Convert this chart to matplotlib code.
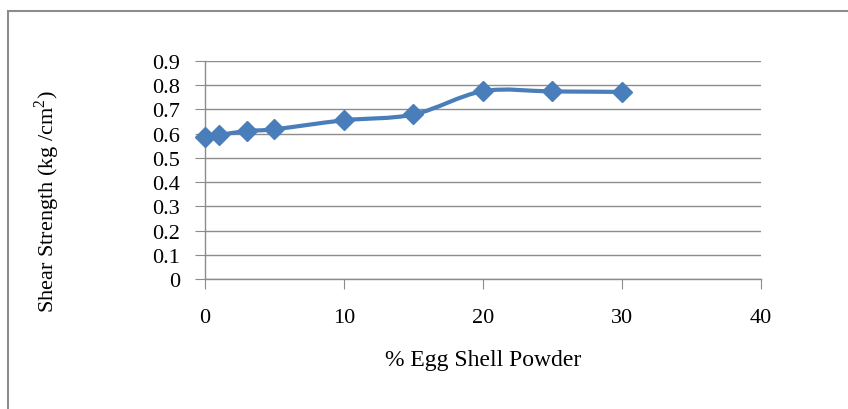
import matplotlib
matplotlib.use("Agg")
import matplotlib.pyplot as plt
from matplotlib.path import Path
from matplotlib.patches import PathPatch, Rectangle

# % egg shell powder vs shear strength
egg_shell = [0, 1, 3, 5, 10, 15, 20, 25, 30]
shear = [0.588, 0.594, 0.611, 0.618, 0.655, 0.679, 0.775, 0.774, 0.772]

x_ticks = [0, 10, 20, 30, 40]
y_ticks = [0, 0.1, 0.2, 0.3, 0.4, 0.5, 0.6, 0.7, 0.8, 0.9]
y_labels = ["0", "0.1", "0.2", "0.3", "0.4", "0.5", "0.6", "0.7", "0.8", "0.9"]

blue = "#4a7ebb"
grey = "#8c8c8c"

plt.rcParams["font.family"] = ["Liberation Serif", "DejaVu Serif"]
plt.rcParams["mathtext.fontset"] = "custom"
plt.rcParams["mathtext.rm"] = "Liberation Serif"

fig = plt.figure(figsize=(8.48, 4.10), dpi=100)
ax = fig.add_axes([0.2417, 0.317, 0.6557, 0.532])

# outer chart frame (Excel chart area), right and bottom edges run off the image
fig.patches.append(Rectangle((8 / 848, -0.1), 1.2, 1 - 12 / 410 + 0.1,
                             transform=fig.transFigure, fill=False,
                             edgecolor=grey, linewidth=1.5))

# smoothed line like Excel (Catmull-Rom style bezier through the points)
verts = [(egg_shell[0], shear[0])]
codes = [Path.MOVETO]
n = len(egg_shell)
for i in range(n - 1):
    x0, y0 = egg_shell[max(i - 1, 0)], shear[max(i - 1, 0)]
    x1, y1 = egg_shell[i], shear[i]
    x2, y2 = egg_shell[i + 1], shear[i + 1]
    x3, y3 = egg_shell[min(i + 2, n - 1)], shear[min(i + 2, n - 1)]
    verts += [(x1 + (x2 - x0) / 6, y1 + (y2 - y0) / 6),
              (x2 - (x3 - x1) / 6, y2 - (y3 - y1) / 6),
              (x2, y2)]
    codes += [Path.CURVE4] * 3
ax.add_patch(PathPatch(Path(verts, codes), facecolor="none",
                       edgecolor=blue, linewidth=3, zorder=3))
ax.plot(egg_shell, shear, ls="none", marker="D", markersize=10,
        color=blue, zorder=4, clip_on=False)

ax.set_xlim(0, 40)
ax.set_ylim(0, 0.9)
ax.set_xticks(x_ticks)
ax.set_yticks(y_ticks)
ax.set_yticklabels(y_labels)
ax.grid(axis="y", color=grey, linewidth=1)
ax.set_axisbelow(True)
for s in ["top", "right"]:
    ax.spines[s].set_visible(False)
for s in ["left", "bottom"]:
    ax.spines[s].set_color(grey)
    ax.spines[s].set_linewidth(1)
ax.tick_params(axis="both", direction="out", length=7, color=grey,
               labelsize=16)
ax.tick_params(axis="y", pad=11)
ax.tick_params(axis="x", pad=14)

ax.set_xlabel("% Egg Shell Powder", fontsize=17, labelpad=16)
ax.set_ylabel("Shear Strength (kg /cm$^2$)", fontsize=16)
ax.yaxis.set_label_coords(-0.258, 0.362)

fig.savefig("out.png", dpi=100)
